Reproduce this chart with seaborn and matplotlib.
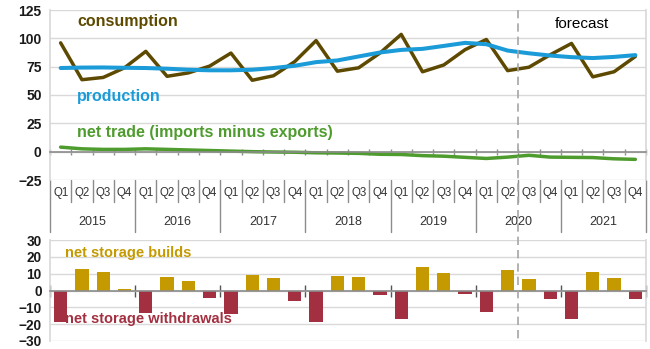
import matplotlib
matplotlib.use("Agg")
import matplotlib.pyplot as plt
import matplotlib.transforms as mtransforms
from matplotlib.lines import Line2D
import numpy as np
import pandas as pd
import seaborn as sns

# Quarterly series, 2015 Q1 through 2021 Q4
years = ["2015", "2016", "2017", "2018", "2019", "2020", "2021"]
quarters = ["Q1", "Q2", "Q3", "Q4"]

consumption = [96, 63.5, 65.5, 74, 88.5, 66.5, 69.5, 75.5, 87, 63, 67, 79.5,
               98, 71, 74, 87, 103.5, 70.5, 76.5, 90, 99, 71.5, 74.5, 85.5,
               95.5, 66, 70.5, 84]
production = [73.8, 74.2, 74.3, 74.0, 73.8, 73.2, 72.3, 71.8, 71.8, 72.3, 73.8, 75.8,
              79.0, 80.5, 84.0, 87.5, 89.8, 90.7, 93.3, 96.0, 94.8, 89.2, 86.8, 84.8,
              83.4, 82.6, 83.6, 85.2]
net_trade = [4.0, 2.5, 2.0, 2.0, 2.5, 2.0, 1.5, 1.0, 0.5, 0.0, -0.3, -0.5,
             -1.0, -1.2, -1.5, -2.3, -2.5, -3.5, -4.0, -5.0, -6.0, -4.8, -3.2, -4.8,
             -5.0, -5.2, -6.3, -6.8]
storage = [-18.8, 13.0, 10.7, 0.8, -13.2, 7.8, 5.6, -4.5, -14.0, 9.5, 7.2, -6.0,
           -18.8, 8.9, 8.3, -2.7, -16.7, 13.8, 10.3, -2.3, -12.6, 12.0, 6.6, -5.2,
           -17.1, 10.9, 7.4, -5.2]
forecast_start = 22  # first forecast quarter (2020 Q3)

C_CONS = "#5E4900"
C_PROD = "#1B9BD8"
C_TRADE = "#4F9C2E"
C_BUILD = "#C49A00"
C_WITH = "#A33041"
GRID = "#D9D9D9"
AXIS = "#8C8C8C"

sns.set_theme(style="white")
plt.rcParams["font.family"] = ["Liberation Sans", "DejaVu Sans"]

n = len(consumption)
idx = np.arange(n)
df = pd.DataFrame({
    "q": idx,
    "consumption": consumption,
    "production": production,
    "net_trade": net_trade,
    "storage": storage,
})
df["kind"] = np.where(df["storage"] >= 0, "build", "withdraw")

fig = plt.figure(figsize=(6.5, 3.49), dpi=100)
W, H = 650, 349
ax1 = fig.add_axes([50 / W, 1 - 180 / H, 596 / W, 170 / H])
ax2 = fig.add_axes([50 / W, 1 - 341 / H, 596 / W, 101 / H])

# ---- top panel: supply and demand lines ----
sns.lineplot(data=df, x="q", y="consumption", color=C_CONS, lw=2.5, ax=ax1)
sns.lineplot(data=df, x="q", y="production", color=C_PROD, lw=2.9, ax=ax1)
sns.lineplot(data=df, x="q", y="net_trade", color=C_TRADE, lw=2.5, ax=ax1)

ax1.set_xlim(-0.5, n - 0.5)
ax1.set_ylim(-25, 125)
ax1.set_yticks(np.arange(-25, 126, 25))
ax1.yaxis.grid(True, color=GRID, lw=1)
ax1.set_axisbelow(True)
ax1.spines["bottom"].set_position(("data", 0))
ax1.spines["bottom"].set_color(AXIS)
ax1.spines["bottom"].set_linewidth(1.2)
ax1.spines["top"].set_visible(False)
for s in ("left", "right"):
    ax1.spines[s].set_color(GRID)
ax1.set_xticks(np.arange(-0.5, n, 1))
ax1.set_xticklabels([])
ax1.tick_params(axis="x", direction="inout", length=5, color=AXIS, width=1, bottom=True)
ax1.tick_params(axis="y", length=0, labelsize=10, pad=6)
for lab in ax1.get_yticklabels():
    lab.set_fontweight("bold")
    lab.set_color("#1a1a1a")
ax1.set_xlabel("")
ax1.set_ylabel("")

ax1.text(0.77, 115, "consumption", color=C_CONS, fontsize=11.5, fontweight="bold",
         ha="left", va="center")
ax1.text(0.77, 49, "production", color=C_PROD, fontsize=11.5, fontweight="bold",
         ha="left", va="center")
ax1.text(0.77, 16.5, "net trade (imports minus exports)", color=C_TRADE,
         fontsize=11.5, fontweight="bold", ha="left", va="center")
ax1.text(forecast_start + 1.2, 113, "forecast", color="black", fontsize=11,
         ha="left", va="center")

# category axis: quarters above years
tr = mtransforms.blended_transform_factory(ax1.transData, ax1.transAxes)
for i in range(n):
    ax1.text(i, -0.077, quarters[i % 4], transform=tr, ha="center", va="center",
             fontsize=8.3, color="#333333")
for k, y in enumerate(years):
    ax1.text(4 * k + 1.5, -0.245, y, transform=tr, ha="center", va="center",
             fontsize=9, color="#333333")
for b in range(n + 1):
    x = b - 0.5
    y_end = -0.306 if b % 4 == 0 else -0.13
    ax1.add_line(Line2D([x, x], [0, y_end], transform=tr, color=AXIS, lw=1,
                        clip_on=False))

# ---- bottom panel: storage bars ----
sns.barplot(data=df, x="q", y="storage", hue="kind",
            palette={"build": C_BUILD, "withdraw": C_WITH}, saturation=1,
            width=0.62, dodge=False, legend=False, ax=ax2, linewidth=0)
ax2.set_xlim(-0.5, n - 0.5)
ax2.set_ylim(-30, 30)
ax2.set_yticks(np.arange(-30, 31, 10))
ax2.yaxis.grid(True, color=GRID, lw=1)
ax2.set_axisbelow(True)
ax2.spines["bottom"].set_position(("data", 0))
ax2.spines["bottom"].set_color(AXIS)
ax2.spines["bottom"].set_linewidth(1.2)
ax2.spines["bottom"].set_zorder(3)
ax2.spines["top"].set_visible(False)
for s in ("left", "right"):
    ax2.spines[s].set_color(GRID)
ax2.set_xticks(np.arange(-0.5, n, 4))
ax2.set_xticklabels([])
ax2.tick_params(axis="x", direction="inout", length=8, color="#555555", width=1, bottom=True)
ax2.tick_params(axis="y", length=0, labelsize=9.8, pad=6)
for lab in ax2.get_yticklabels():
    lab.set_fontweight("bold")
    lab.set_color("#1a1a1a")
ax2.set_xlabel("")
ax2.set_ylabel("")

ax2.text(0.2, 22, "net storage builds", color=C_BUILD, fontsize=10.5,
         fontweight="bold", ha="left", va="center")
ax2.text(0.2, -17, "net storage withdrawals", color=C_WITH, fontsize=10.5,
         fontweight="bold", ha="left", va="center", zorder=5)

# forecast divider spanning both panels
trf = mtransforms.blended_transform_factory(ax1.transData, fig.transFigure)
fig.add_artist(Line2D([forecast_start - 0.5] * 2, [1 - 10 / H, 1 - 341 / H],
                      transform=trf, color="#A6A6A6", lw=1.2, ls=(0, (5, 3))))

fig.savefig("out.png", dpi=100, facecolor="white")
